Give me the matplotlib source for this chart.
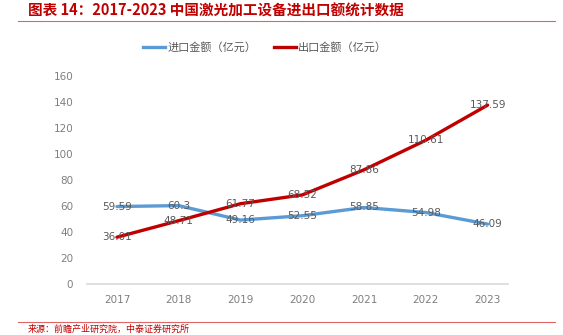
import matplotlib
matplotlib.use("Agg")
import matplotlib.pyplot as plt
from matplotlib.lines import Line2D

plt.rcParams['font.family'] = ['Noto Sans CJK SC', 'DejaVu Sans']

years = ['2017', '2018', '2019', '2020', '2021', '2022', '2023']
imports = [59.59, 60.3, 49.16, 52.55, 58.85, 54.98, 46.09]
exports = [36.01, 48.71, 61.77, 68.52, 87.86, 110.61, 137.59]
yticks = [0, 20, 40, 60, 80, 100, 120, 140, 160]

title = '图表 14：2017-2023 中国激光加工设备进出口额统计数据'
source = '来源：前瞻产业研究院，中泰证券研究所'
import_label = '进口金额（亿元）'
export_label = '出口金额（亿元）'

W, H = 563, 335
fig = plt.figure(figsize=(W / 100, H / 100), dpi=100)
ax = fig.add_axes([87 / W, 1 - 284 / H, (508 - 87) / W, (284 - 76) / H])

blue = '#5B9BD5'
red = '#C00000'
grey = '#595959'
tickgrey = '#7F7F7F'

x = list(range(len(years)))
ax.plot(x, imports, color=blue, lw=2.4, solid_capstyle='round', zorder=3)
ax.plot(x, exports, color=red, lw=2.4, solid_capstyle='round', zorder=4)

for xi, v in zip(x, imports):
    ax.text(xi, v, f'{v:g}', ha='center', va='center', fontsize=7.5,
            color=grey, family='DejaVu Sans', zorder=5)
for xi, v in zip(x, exports):
    ax.text(xi, v, f'{v:g}', ha='center', va='center', fontsize=7.5,
            color=grey, family='DejaVu Sans', zorder=5)

ax.set_xlim(-0.485, 6.33)
ax.set_ylim(0, 160)
ax.set_yticks(yticks)
ax.set_yticklabels([str(t) for t in yticks], fontsize=7.5, color=tickgrey, family='DejaVu Sans')
ax.set_xticks(x)
ax.set_xticklabels(years, fontsize=7.5, color=tickgrey, family='DejaVu Sans')
ax.tick_params(length=0, pad=8)
ax.tick_params(axis='y', pad=10)
for s in ['top', 'right', 'left']:
    ax.spines[s].set_visible(False)
ax.spines['bottom'].set_color('#D9D9D9')
ax.spines['bottom'].set_linewidth(1.2)
ax.patch.set_alpha(0)

handles = [Line2D([], [], color=blue, lw=2.4), Line2D([], [], color=red, lw=2.4)]
fig.legend(handles, [import_label, export_label], loc='center',
           bbox_to_anchor=(265 / W, 1 - 47 / H), ncol=2, frameon=False,
           fontsize=8, handlelength=2.0, handletextpad=0.2, columnspacing=1.6,
           labelcolor=grey)

fig.text(28 / W, 1 - 11 / H, title, ha='left', va='center', fontsize=10.5,
         color='#C00000', fontweight='bold', style='italic')
fig.add_artist(Line2D([18 / W, 555 / W], [1 - 21 / H, 1 - 21 / H], color='#E06666', lw=0.8))
fig.add_artist(Line2D([18 / W, 555 / W], [1 - 322 / H, 1 - 322 / H], color='#E06666', lw=0.8))
fig.text(28 / W, 1 - 329 / H, source, ha='left', va='center', fontsize=6.5, color='#C00000')

fig.savefig('out.png', dpi=100)
